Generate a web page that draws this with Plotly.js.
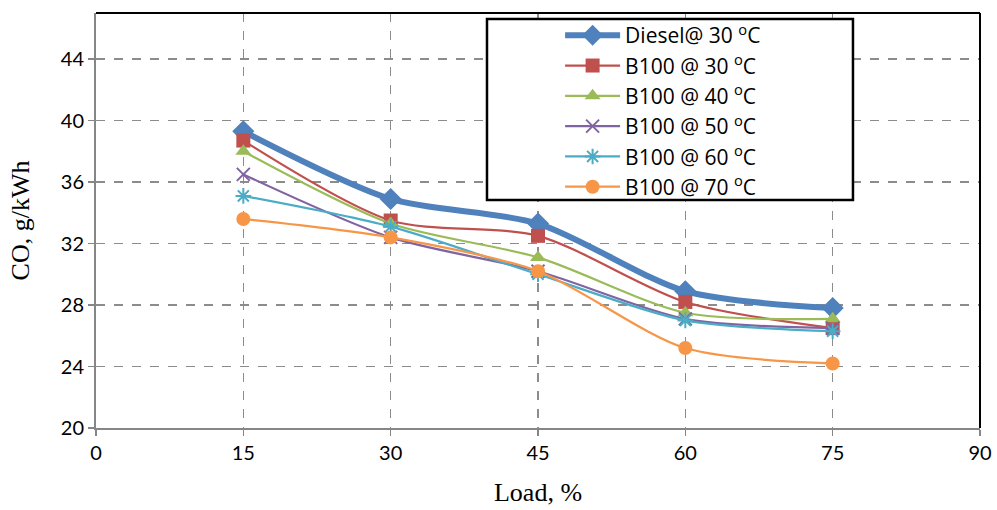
<!DOCTYPE html>
<html><head><meta charset="utf-8">
<script src="https://cdn.plot.ly/plotly-3.0.1.min.js"></script>
<style>body{margin:0;background:#fff}#c{width:997px;height:510px}</style>
</head><body><div id="c"></div>
<script>
const load = [15, 30, 45, 60, 75];
const diesel30 = [39.3, 34.9, 33.3, 28.9, 27.8];
const b100_30 = [38.7, 33.5, 32.5, 28.2, 26.5];
const b100_40 = [38.0, 33.3, 31.1, 27.5, 27.1];
const b100_50 = [36.5, 32.4, 30.2, 27.1, 26.5];
const b100_60 = [35.1, 33.1, 30.0, 27.0, 26.3];
const b100_70 = [33.6, 32.4, 30.2, 25.2, 24.2];
const names = ['Diesel@ 30 <sup>o</sup>C','B100 @ 30 <sup>o</sup>C','B100 @ 40 <sup>o</sup>C','B100 @ 50 <sup>o</sup>C','B100 @ 60 <sup>o</sup>C','B100 @ 70 <sup>o</sup>C'];
const xTicks = [0, 15, 30, 45, 60, 75, 90];
const yTicks = [20, 24, 28, 32, 36, 40, 44];

const series = [diesel30, b100_30, b100_40, b100_50, b100_60, b100_70];
const colors = ['#4F81BD','#C0504D','#9BBB59','#8064A2','#4BACC6','#F79646'];
const symbols = ['diamond','square','triangle-up','x-thin-open','asterisk-open','circle'];
const sizes = [17, 14, 14, 13, 13, 14];
const widths = [6, 2.2, 2.2, 2.2, 2.2, 2.2];

const traces = series.map((s,i)=>({
  x: load, y: s, name: names[i], type:'scatter', mode:'lines+markers',
  line:{color:colors[i], width:widths[i], shape:'spline', smoothing:0.8},
  marker:{symbol:symbols[i], size:sizes[i], color:colors[i], line:{color:colors[i], width: (i===3||i===4)?2:0}}
}));

const layout = {
  width:997, height:510,
  margin:{l:96, r:17, t:13, b:82},
  paper_bgcolor:'#fff', plot_bgcolor:'#fff',
  font:{family:'Lato, "Open Sans", sans-serif', size:20, color:'#000'},
  showlegend:true,
  legend:{x:0.525, y:0.995, xanchor:'left', yanchor:'top', bgcolor:'rgba(0,0,0,0)', borderwidth:0,
    font:{family:'"Open Sans", Lato, sans-serif', size:21, color:'#000'}, traceorder:'normal', itemwidth:55},
  xaxis:{range:[0,90], tickvals:xTicks, ticktext:xTicks.map(String), showline:true, linecolor:'#868686', linewidth:2,
    ticks:'outside', ticklen:6, tickcolor:'#868686', tickwidth:1.5,
    showgrid:true, gridcolor:'#8c8c8c', griddash:'dash', gridwidth:1.5, zeroline:false,
    tickfont:{size:20}, title:{text:'Load, %', font:{family:'"Liberation Serif", "Times New Roman", serif', size:26}, standoff:20}},
  yaxis:{range:[20,47], tickvals:yTicks, ticktext:yTicks.map(String), showline:true, linecolor:'#868686', linewidth:2,
    ticks:'outside', ticklen:6, tickcolor:'#868686', tickwidth:1.5,
    showgrid:true, gridcolor:'#8c8c8c', griddash:'dash', gridwidth:1.5, zeroline:false,
    tickfont:{size:20}, title:{text:'CO, g/kWh', font:{family:'"Liberation Serif", "Times New Roman", serif', size:26}, standoff:24}},
  shapes:[
    {type:'line', xref:'paper', yref:'paper', x0:0, x1:1, y0:1, y1:1, line:{color:'#000', width:2}},
    {type:'line', xref:'paper', yref:'paper', x0:1, x1:1, y0:0, y1:1, line:{color:'#000', width:2}},
    {type:'rect', layer:'above', xref:'paper', yref:'paper', x0:0.4423, x1:0.8563, y0:0.5494, y1:0.9855,
      fillcolor:'#fff', line:{color:'#000', width:2.5}}
  ]
};
Plotly.newPlot('c', traces, layout, {displayModeBar:false, staticPlot:true});
</script></body></html>
